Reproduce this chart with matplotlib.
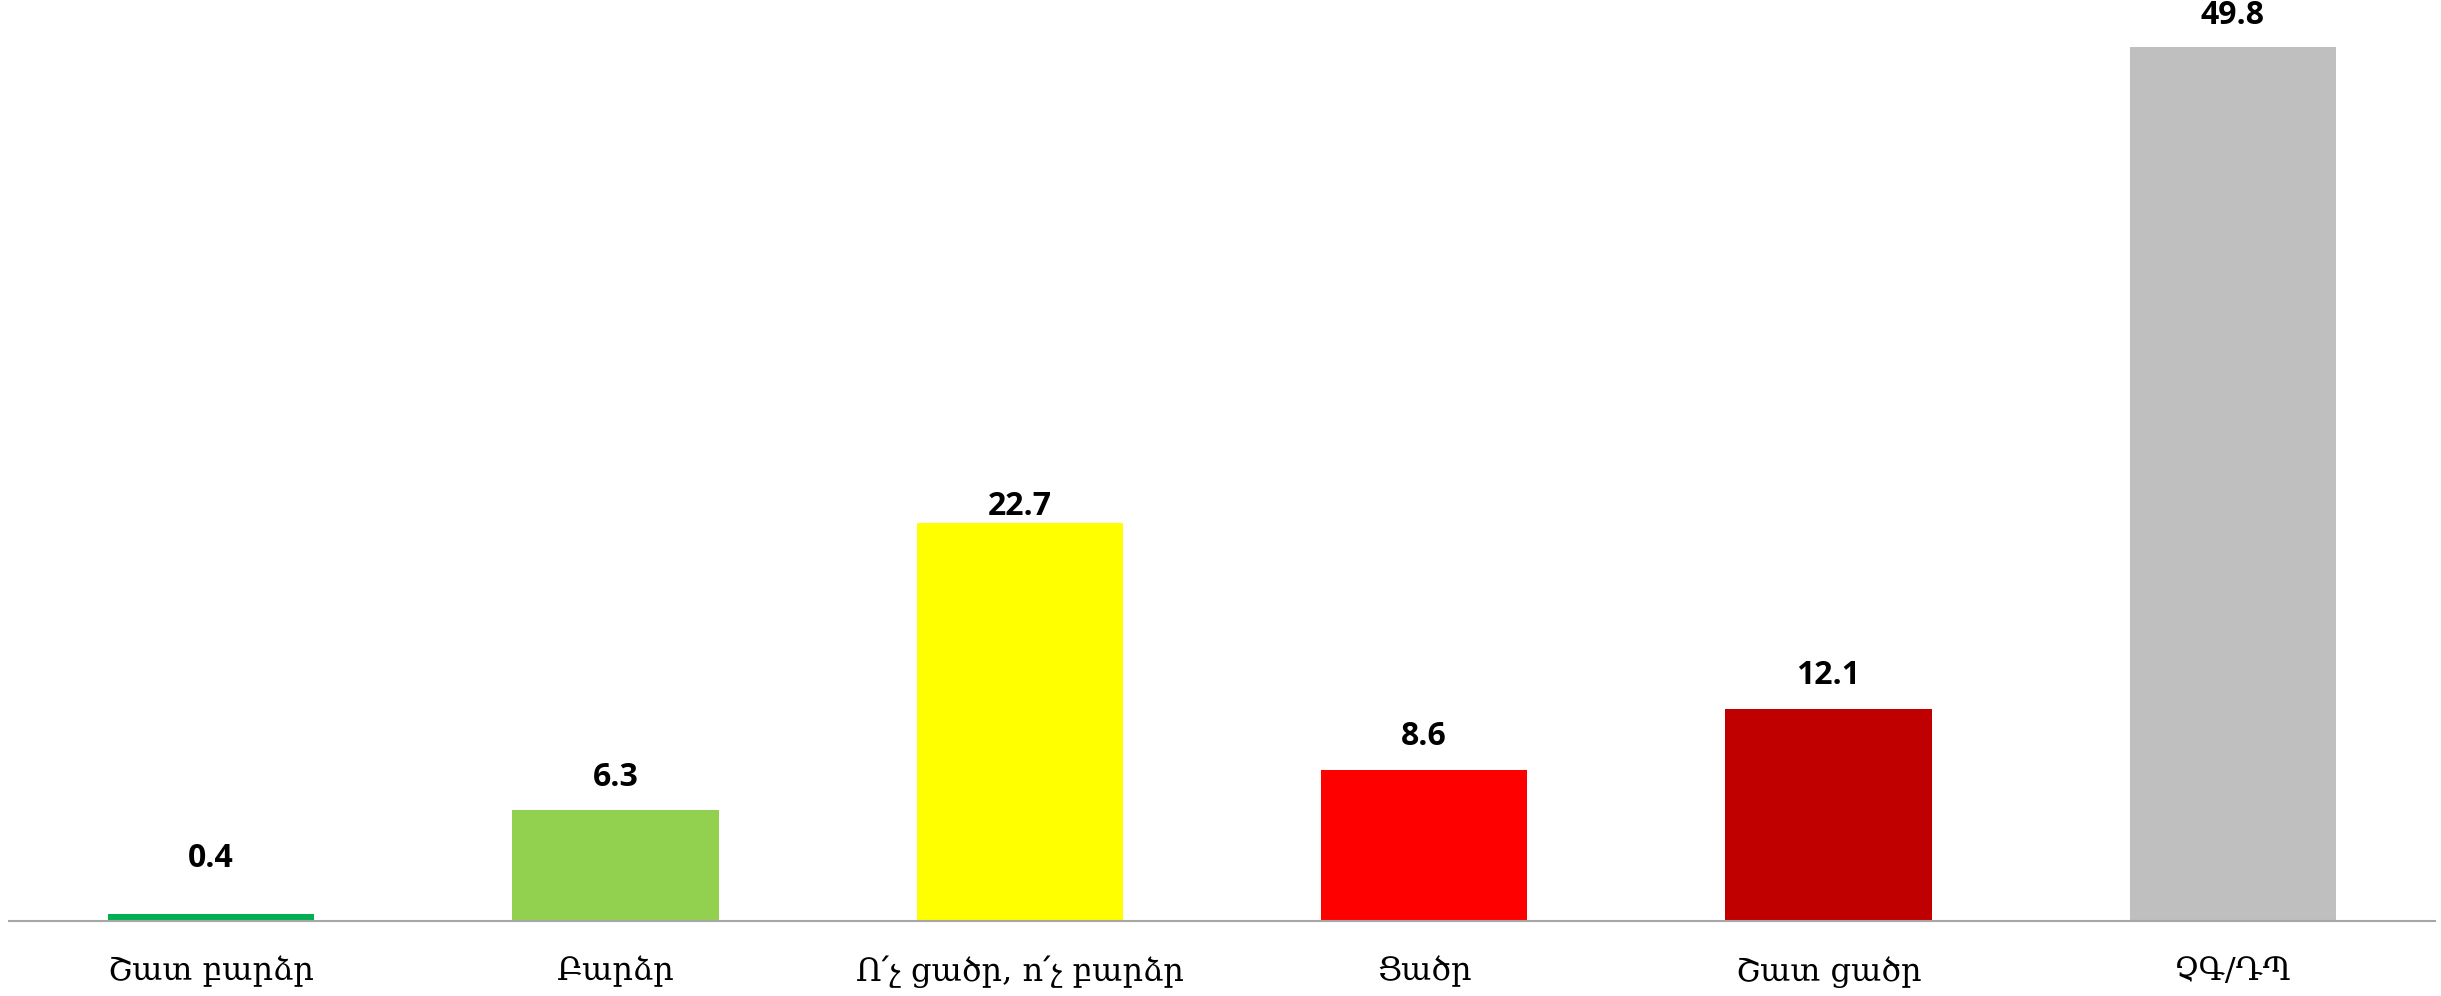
import matplotlib.pyplot as plt

categories = ["Շատ բարձր", "Բարձր", "Ո՛չ ցածր, ո՛չ բարձր", "Ցածր", "Շատ ցածր", "ՉԳ/ԴՊ"]
values = [0.4, 6.3, 22.7, 8.6, 12.1, 49.8]
colors = ["#00B050", "#92D050", "#FFFF00", "#FF0000", "#C00000", "#BFBFBF"]

# label gaps above the bars (points), as placed in the original chart
label_gap = [28, 12, 0, 12, 12, 11]

fig = plt.figure(figsize=(24.41, 9.96), dpi=100)
ax = fig.add_axes([9 / 2441, 1 - 921 / 996, (2435 - 9) / 2441, 921 / 996])

x = range(len(categories))
bars = ax.bar(x, values, width=0.51, color=colors)
for b, v, g in zip(bars, values, label_gap):
    ax.annotate(f"{v}", (b.get_x() + b.get_width() / 2, v), textcoords="offset points",
                xytext=(0, g), ha="center", va="bottom", fontsize=23,
                fontweight="bold", family="Open Sans")

ax.set_xlim(-0.5, 5.5)
ax.set_ylim(0, 52.5)
ax.set_xticks(list(x))
ax.set_xticklabels(categories, fontsize=23, family="DejaVu Serif")
ax.tick_params(axis="x", length=0, pad=25)
ax.set_yticks([])
for s in ["top", "right", "left"]:
    ax.spines[s].set_visible(False)
ax.spines["bottom"].set_color("#A6A6A6")
ax.spines["bottom"].set_linewidth(1.5)

fig.savefig("out.png", dpi=100)
